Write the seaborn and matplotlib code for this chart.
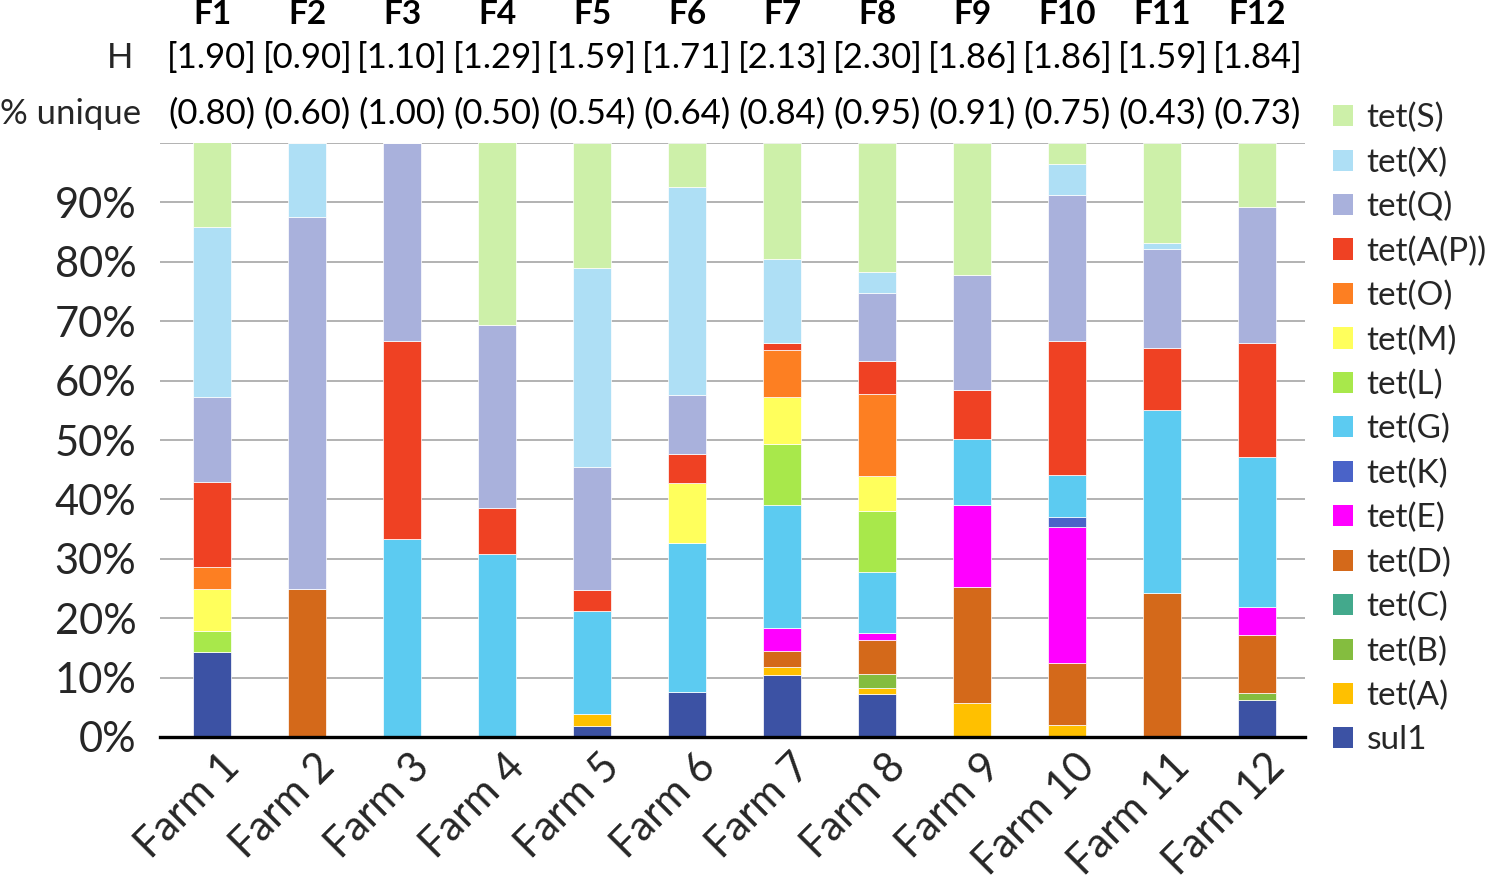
import numpy as np
import pandas as pd
import seaborn as sns
import matplotlib.pyplot as plt
from matplotlib.patches import Patch
from matplotlib import transforms

# ---------------- data ----------------
farms = [f"Farm {i}" for i in range(1, 13)]
farm_codes = [f"F{i}" for i in range(1, 13)]
h_values = ["[1.90]", "[0.90]", "[1.10]", "[1.29]", "[1.59]", "[1.71]",
            "[2.13]", "[2.30]", "[1.86]", "[1.86]", "[1.59]", "[1.84]"]
unique_values = ["(0.80)", "(0.60)", "(1.00)", "(0.50)", "(0.54)", "(0.64)",
                 "(0.84)", "(0.95)", "(0.91)", "(0.75)", "(0.43)", "(0.73)"]

# gene order: legend top -> bottom (stack top -> bottom)
genes = ["tet(S)", "tet(X)", "tet(Q)", "tet(A(P))", "tet(O)", "tet(M)", "tet(L)",
         "tet(G)", "tet(K)", "tet(E)", "tet(D)", "tet(C)", "tet(B)", "tet(A)", "sul1"]

sul1    = [14.3, 0, 0, 0, 1.9, 7.6, 10.5, 7.2, 0, 0, 0, 6.2]
tet_A   = [0, 0, 0, 0, 1.9, 0, 1.3, 1.0, 5.7, 2.0, 0, 0]
tet_B   = [0, 0, 0, 0, 0, 0, 0, 2.4, 0, 0, 0, 1.2]
tet_C   = [0, 0, 0, 0, 0, 0, 0, 0, 0, 0, 0, 0]
tet_D   = [0, 25.0, 0, 0, 0, 0, 2.6, 5.7, 19.5, 10.5, 24.3, 9.8]
tet_E   = [0, 0, 0, 0, 0, 0, 4.0, 1.2, 13.8, 22.8, 0, 4.7]
tet_K   = [0, 0, 0, 0, 0, 0, 0, 0, 0, 1.7, 0, 0]
tet_G   = [0, 0, 33.3, 30.8, 17.4, 25.0, 20.7, 10.3, 11.2, 7.1, 30.7, 25.3]
tet_L   = [3.6, 0, 0, 0, 0, 0, 10.3, 10.2, 0, 0, 0, 0]
tet_M   = [7.1, 0, 0, 0, 0, 10.2, 7.9, 5.9, 0, 0, 0, 0]
tet_O   = [3.6, 0, 0, 0, 0, 0, 7.8, 13.8, 0, 0, 0, 0]
tet_AP  = [14.3, 0, 33.3, 7.7, 3.5, 4.8, 1.3, 5.6, 8.2, 22.6, 10.5, 19.1]
tet_Q   = [14.3, 62.5, 33.4, 30.8, 20.8, 9.9, 0, 11.4, 19.3, 24.6, 16.7, 23.0]
tet_X   = [28.6, 12.5, 0, 0, 33.5, 35.1, 14.1, 3.6, 0, 5.2, 1.0, 0]
tet_S   = [14.3, 0, 0, 30.8, 21.0, 7.4, 19.5, 21.7, 22.3, 3.5, 16.8, 10.7]

values = {
    "tet(S)": tet_S, "tet(X)": tet_X, "tet(Q)": tet_Q, "tet(A(P))": tet_AP,
    "tet(O)": tet_O, "tet(M)": tet_M, "tet(L)": tet_L, "tet(G)": tet_G,
    "tet(K)": tet_K, "tet(E)": tet_E, "tet(D)": tet_D, "tet(C)": tet_C,
    "tet(B)": tet_B, "tet(A)": tet_A, "sul1": sul1,
}

colors = {
    "tet(S)": "#cdf0a9", "tet(X)": "#aedff5", "tet(Q)": "#a9b1dc",
    "tet(A(P))": "#ef4123", "tet(O)": "#fd7f22", "tet(M)": "#ffff5c",
    "tet(L)": "#a8e84b", "tet(G)": "#5ccbf1", "tet(K)": "#4a63c8",
    "tet(E)": "#ff00ff", "tet(D)": "#d4691a", "tet(C)": "#43a98c",
    "tet(B)": "#84bd3f", "tet(A)": "#ffc000", "sul1": "#3c52a4",
}

rows = []
for g in genes:
    for i, v in enumerate(values[g]):
        if v > 0:
            rows.append({"pos": i, "gene": g, "value": v})
df = pd.DataFrame(rows)
present = [g for g in genes if g in set(df["gene"])]

# ---------------- plot ----------------
sns.set_theme(style="white")
FONT = ["Lato", "DejaVu Sans"]
plt.rcParams["font.family"] = FONT

fig = plt.figure(figsize=(15.04, 8.83), dpi=100)
ax = fig.add_axes([160 / 1504, 1 - 737 / 883, (1305 - 160) / 1504, (737 - 143) / 883])

sns.histplot(data=df, x="pos", weights="value", hue="gene", hue_order=present,
             multiple="stack", discrete=True, shrink=0.4, palette=colors,
             alpha=1, linewidth=0.5, edgecolor="white", legend=False, ax=ax)

ax.set_xlim(-0.55, 11.5)
ax.set_ylim(0, 100)
ax.set_yticks(np.arange(0, 101, 10))
ax.set_yticklabels([f"{v}%" if v < 100 else "" for v in range(0, 101, 10)],
                   fontsize=30)
ax.yaxis.grid(True, color="#a6a6a6", linewidth=1.2)
ax.set_axisbelow(True)
ax.tick_params(axis="y", length=0, pad=17)
ax.tick_params(axis="x", length=0)
ax.set_xlabel("")
ax.set_ylabel("")
for s in ["top", "right", "left"]:
    ax.spines[s].set_visible(False)
ax.spines["bottom"].set_color("black")
ax.spines["bottom"].set_linewidth(2.4)

ax.set_xticks(range(len(farms)))
ax.set_xticklabels(farms, fontsize=30, rotation=45, ha="right",
                   rotation_mode="anchor")
offset = transforms.ScaledTranslation(0.08, -0.05, fig.dpi_scale_trans)
for lab in ax.get_xticklabels():
    lab.set_transform(lab.get_transform() + offset)

# header rows above the bars
trans = transforms.blended_transform_factory(ax.transData, fig.transFigure)
for i in range(len(farms)):
    ax.text(i, 1 - 15 / 883, farm_codes[i], transform=trans, ha="center",
            va="center", fontsize=24, fontweight="bold", color="black")
    ax.text(i, 1 - 58 / 883, h_values[i], transform=trans, ha="center",
            va="center", fontsize=25, color="black")
    ax.text(i, 1 - 114 / 883, unique_values[i], transform=trans, ha="center",
            va="center", fontsize=25, color="black")
fig.text(133 / 1504, 1 - 58 / 883, "H", ha="right", va="center", fontsize=25)
fig.text(141 / 1504, 1 - 114 / 883, "% unique", ha="right", va="center",
         fontsize=25)

# legend
handles = [Patch(facecolor=colors[g], edgecolor="none", label=g) for g in genes]
fig.legend(handles=handles, loc="upper left",
           bbox_to_anchor=(1333 / 1504, 1 - 103 / 883), frameon=False,
           fontsize=24, handlelength=0.6, handleheight=0.6,
           handletextpad=0.4, labelspacing=0.42, borderaxespad=0,
           borderpad=0)

fig.savefig("out.png", dpi=100)
